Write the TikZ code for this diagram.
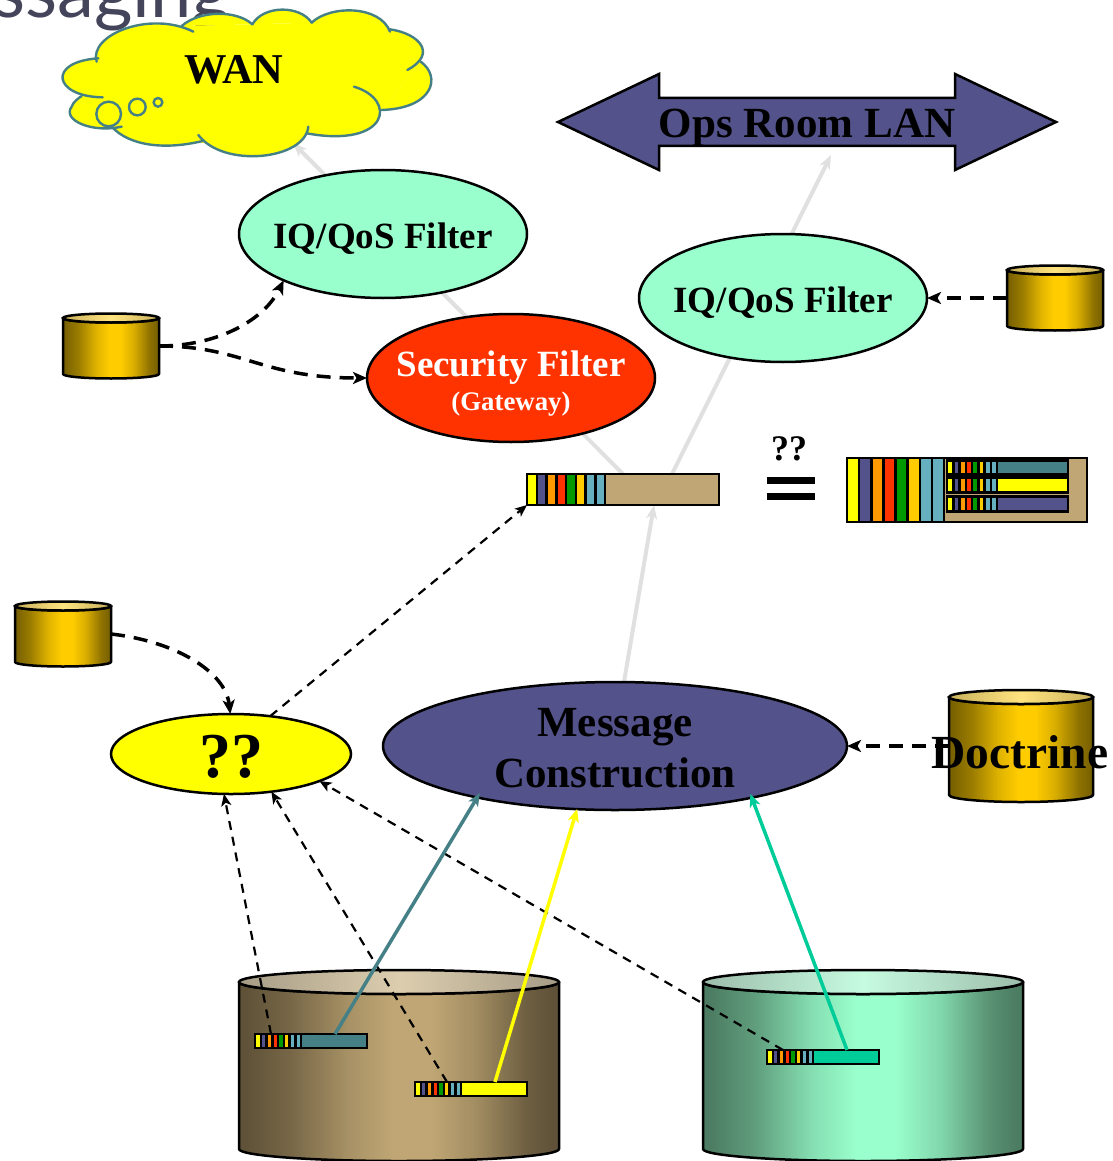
\documentclass[tikz,border=0pt]{standalone}
\usepackage{fontspec}
\setmainfont{Liberation Serif}
\newfontfamily\titlefont{Lato}
\usetikzlibrary{shapes.geometric,arrows.meta,calc}
\definecolor{yellowB}{HTML}{FFFF00}
\definecolor{slateB}{HTML}{53528A}
\definecolor{tealB}{HTML}{468087}
\definecolor{tanB}{HTML}{BFA674}
\definecolor{mintB}{HTML}{99FFCC}
\definecolor{redB}{HTML}{FF3300}
\definecolor{greenB}{HTML}{00CC99}
\definecolor{cyanB}{HTML}{66AFBF}
\definecolor{goldB}{HTML}{FFCC00}
\definecolor{orangeB}{HTML}{FF9900}
\definecolor{leafB}{HTML}{009900}
\definecolor{greyB}{HTML}{E0E0E0}
\definecolor{titleB}{HTML}{44445A}
\definecolor{tanE}{HTML}{5F5238}\definecolor{tanC}{HTML}{BFA674}\definecolor{tanTE}{HTML}{A69C86}\definecolor{tanTC}{HTML}{DCCDAE}
\definecolor{minE}{HTML}{4C7C62}\definecolor{minC}{HTML}{99FFCC}\definecolor{minTE}{HTML}{9DBDAB}\definecolor{minTC}{HTML}{C6FBE0}
\definecolor{golE}{HTML}{7A6200}\definecolor{golC}{HTML}{FFCC00}\definecolor{golTE}{HTML}{C9B25C}\definecolor{golTC}{HTML}{FFE37F}
\newcommand\myshade[2]{%
  \pgfdeclarehorizontalshading{#1}{100bp}{color(0bp)=(#2E);color(26bp)=(#2E);color(33bp)=(#2E!75!#2C);color(42bp)=(#2E!25!#2C);color(49bp)=(#2C);color(55bp)=(#2C);color(62bp)=(#2E!30!#2C);color(70bp)=(#2E!85!#2C);color(74bp)=(#2E);color(100bp)=(#2E)}%
}
\myshade{tanbody}{tan}\myshade{minbody}{min}\myshade{golbody}{gol}
\pgfdeclarelayer{bg}
\pgfsetlayers{bg,main}
\tikzset{
  ell/.style={ellipse,draw=black,line width=2.5pt,inner sep=0pt,outer sep=0pt},
  barbox/.style={rectangle,draw=black,line width=2.5pt,inner sep=0pt,outer sep=0pt},
  cylnode/.style={rectangle,inner sep=0pt,outer sep=0pt},
  stripe/.style={draw=black,line width=2.5pt},
  greyline/.style={draw=greyB,line width=4pt,-{Stealth[length=14pt,width=11pt,inset=4pt]}},
  thindash/.style={draw=black,line width=2.2pt,dash pattern=on 9pt off 7pt,-{Stealth[length=12pt,width=10pt,inset=3pt]}},
  thickdash/.style={draw=black,line width=3.5pt,dash pattern=on 14pt off 9pt,-{Stealth[length=14pt,width=12pt,inset=3.5pt]}},
  solidline/.style={line width=3.5pt,-{Stealth[length=13pt,width=11pt,inset=3.5pt]}},
  cloudline/.style={draw=tealB,line width=2.4pt,line cap=round},
  label/.style={inner sep=0pt,outer sep=0pt,align=center},
}
% name, x0, x1, ytop, ybot, ry, colour prefix
\newcommand\mycyl[7]{%
  \pgfmathsetmacro\rxx{(#3-#2)/2}\pgfmathsetmacro\cxx{(#3+#2)/2}%
  \pgfmathsetmacro\cyy{(#4+#5)/2}\pgfmathsetmacro\wdd{#3-#2}\pgfmathsetmacro\htt{#5-#4+2*#6}%
  \begin{pgfonlayer}{bg}
  \path[draw=black,line width=2.5pt,line join=round,shading=#7body]
    (#2,#4) -- (#2,#5) arc[start angle=180,end angle=0,x radius=\rxx,y radius=#6] -- (#3,#4)
    arc[start angle=0,end angle=180,x radius=\rxx,y radius=#6] -- cycle;
  \path[draw=black,line width=2.5pt,left color=#7TE,right color=#7TE,middle color=#7TC]
    (\cxx,#4) ellipse[x radius=\rxx,y radius=#6];
  \end{pgfonlayer}
  \node[cylnode,minimum width=\wdd pt,minimum height=\htt pt] (#1) at (\cxx,\cyy) {};
}
% x0, y0, width, height
\newcommand\mystripes[4]{%
  \pgfmathsetmacro\sww{#3/8}%
  \foreach \c [count=\i from 0] in {yellowB,slateB,orangeB,redB,leafB,goldB,cyanB,cyanB}{
    \path[stripe,fill=\c] ({#1+\i*\sww},#2) rectangle ({#1+(\i+1)*\sww},{#2+#4});
  }
}
\begin{document}
\begin{tikzpicture}[x=1pt,y=-1pt]
\useasboundingbox (0,0) rectangle (1112,1161);
\clip (0,0) rectangle (1112,1161);
% title fragment
\begin{pgfonlayer}{bg}
\node[anchor=base west,inner sep=0pt,text=titleB,font=\titlefont\fontsize{74}{74}\selectfont] (title) at (-7,18) {ssaging};
\end{pgfonlayer}

% nodes
\node[ell,fill=mintB,minimum width=288pt,minimum height=128pt] (iq1) at (383,234) {};
\node[label,font=\bfseries\fontsize{37}{37}\selectfont] at (383,238.5) {IQ/QoS Filter};
\node[ell,fill=mintB,minimum width=288pt,minimum height=128pt] (iq2) at (783,298) {};
\node[label,font=\bfseries\fontsize{37}{37}\selectfont] at (783,302.5) {IQ/QoS Filter};
\node[ell,fill=redB,minimum width=288pt,minimum height=128pt] (sec) at (511,378) {};
\node[label,text=white,font=\bfseries\fontsize{37}{37}\selectfont] at (511,368) {Security Filter};
\node[label,text=white,font=\bfseries\fontsize{26.8}{28}\selectfont] at (511,404) {(Gateway)};
\node[ell,fill=yellowB,minimum width=240pt,minimum height=80pt] (q) at (231,754) {};
\node[label,font=\bfseries\fontsize{64}{64}\selectfont] at (231,757) {??};
\node[ell,fill=slateB,minimum width=464pt,minimum height=128pt] (msg) at (615,746) {};
\node[label,font=\bfseries\fontsize{43}{43}\selectfont] at (615,727) {Message};
\node[label,font=\bfseries\fontsize{43}{43}\selectfont] at (615,773) {Construction};

% Ops Room LAN arrow
\path[fill=slateB,draw=black,line width=2.5pt,line join=miter]
  (558,122) -- (659,74) -- (659,98) -- (955,98) -- (955,74) -- (1056,122) -- (955,170) -- (955,146) -- (659,146) -- (659,170) -- cycle;
\node[label,font=\bfseries\fontsize{43}{43}\selectfont] (ops) at (807,128) {Ops Room LAN};
\coordinate (opstip) at (831,155);

% cloud
\begin{scope}[x=0.33333pt,y=-0.33333pt]
\def\lobeA{(290,185) .. controls (265,105) and (450,30) .. (580,95)}
\def\lobeB{(545,78) .. controls (600,30) and (710,30) .. (757,73)}
\def\lobeC{(757,73) .. controls (790,15) and (900,15) .. (935,68)}
\def\lobeD{(935,68) .. controls (990,15) and (1140,15) .. (1170,95)}
\def\lobeE{(1170,88) .. controls (1255,100) and (1315,160) .. (1222,210)}
\def\lobeF{(1262,185) .. controls (1325,230) and (1300,325) .. (1145,330)}
\def\lobeG{(1062,260) .. controls (1195,300) and (1165,445) .. (920,400)}
\def\lobeH{(925,380) .. controls (915,480) and (670,505) .. (595,405)}
\def\lobeI{(612,422) .. controls (500,450) and (390,440) .. (335,380)}
\def\lobeJ{(365,380) .. controls (275,400) and (185,360) .. (215,320) .. controls (220,305) and (235,295) .. (245,288)}
\def\lobeK{(308,292) .. controls (160,290) and (140,185) .. (295,175)}
\path[fill=yellowB] (290,185) -- (545,78) -- (757,73) -- (935,68) -- (1170,88) -- (1262,185) -- (1145,330) -- (920,400) -- (750,440) -- (500,420) -- (335,380) -- (245,288) -- cycle;
\foreach \l in {\lobeA,\lobeB,\lobeC,\lobeD,\lobeE,\lobeF,\lobeG,\lobeH,\lobeI,\lobeJ,\lobeK}{\path[fill=yellowB] \l;}
\foreach \l in {\lobeA,\lobeB,\lobeC,\lobeD,\lobeE,\lobeF,\lobeG,\lobeH,\lobeI,\lobeJ,\lobeK}{\path[cloudline] \l;}
\path[cloudline] (326,342) circle[radius=37];
\path[cloudline] (412,321) circle[radius=25];
\path[cloudline] (474,307) circle[radius=13];
\end{scope}
\node[label,font=\bfseries\fontsize{42.5}{42.5}\selectfont] (wan) at (234,70) {WAN};
\coordinate (cloudtip) at (293,143);

% main bar
\node[barbox,fill=tanB,minimum width=192pt,minimum height=31pt] (bar) at (623,489.5) {};
\mystripes{527}{474}{78}{31}
% equals
\node[label,font=\bfseries\fontsize{36}{36}\selectfont] (qq) at (789,449) {??};
\path[fill=black] (767,477) rectangle (815,484);
\path[fill=black] (767,493) rectangle (815,500);
% composite
\node[barbox,fill=tanB,minimum width=240pt,minimum height=64pt] (comp) at (967,490) {};
\mystripes{847}{458}{97}{64}
\node[barbox,fill=tealB,minimum width=121pt,minimum height=14pt] (s1) at (1007.5,467.5) {};
\mystripes{947}{460.5}{50}{14}
\node[barbox,fill=yellowB,minimum width=121pt,minimum height=15pt] (s2) at (1007.5,485) {};
\mystripes{947}{477.5}{50}{15}
\node[barbox,fill=slateB,minimum width=121pt,minimum height=15pt] (s3) at (1007.5,504) {};
\mystripes{947}{496.5}{50}{15}

% cylinders
\mycyl{big1}{239}{559}{982}{1149}{12}{tan}
\mycyl{big2}{703}{1023}{982}{1149}{12}{min}
\mycyl{c1}{63}{159}{318}{374}{4.5}{gol}
\mycyl{c2}{1007}{1103}{270}{326}{4.5}{gol}
\mycyl{c3}{15}{111}{606}{662}{4.5}{gol}
\mycyl{doc}{949}{1093}{697}{795}{7}{gol}
\node[label,font=\bfseries\fontsize{47.5}{47.5}\selectfont] (doctxt) at (1020,752) {Doctrine};

% small bars
\node[barbox,fill=tealB,minimum width=112pt,minimum height=14pt] (ba) at (311,1041) {};
\mystripes{255}{1034}{46}{14}
\node[barbox,fill=yellowB,minimum width=112pt,minimum height=14pt] (bb) at (471,1089) {};
\mystripes{415}{1082}{46}{14}
\node[barbox,fill=greenB,minimum width=112pt,minimum height=14pt] (bc) at (823,1057) {};
\mystripes{767}{1050}{46}{14}

% grey connectors
\begin{pgfonlayer}{bg}
\draw[greyline] (bar.north) -- (cloudtip);
\draw[greyline] ($(bar.north)+(49,0)$) -- (opstip);
\draw[greyline] (msg.82) -- ($(bar.south)+(31,0)$);
\end{pgfonlayer}

% dashed connectors
\draw[thindash] (q.44) -- (bar.south west);
\draw[thindash] ($(ba.north west)+(16,0)$) -- (q.260);
\draw[thindash] ($(bb.north west)+(32,0)$) -- (q.317.5);
\draw[thindash] ($(bc.north west)+(16,0)$) -- (q.343);
\draw[thickdash] (c1.east) .. controls +(60,0) and +(-19,39) .. (iq1.205);
\draw[thickdash] (c1.east) .. controls +(85,0) and +(-107,0) .. (sec.west);
\draw[thickdash] (c2.west) -- (iq2.east);
\draw[thickdash] (c3.east) .. controls +(63,7) and +(-5,-43) .. (q.91);
\draw[thickdash] (doc.west |- msg.east) -- (msg.east);

% solid connectors
\draw[solidline,draw=tealB] ($(ba.north west)+(80,0)$) -- ($(msg.200.6)+(5,-4)$);
\draw[solidline,draw=yellowB] ($(bb.north west)+(80,0)$) -- ($(msg.237.6)+(3,0)$);
\draw[solidline,draw=greenB] ($(bc.north west)+(80,0)$) -- ($(msg.339.4)+(0,-4)$);
\end{tikzpicture}
\end{document}
